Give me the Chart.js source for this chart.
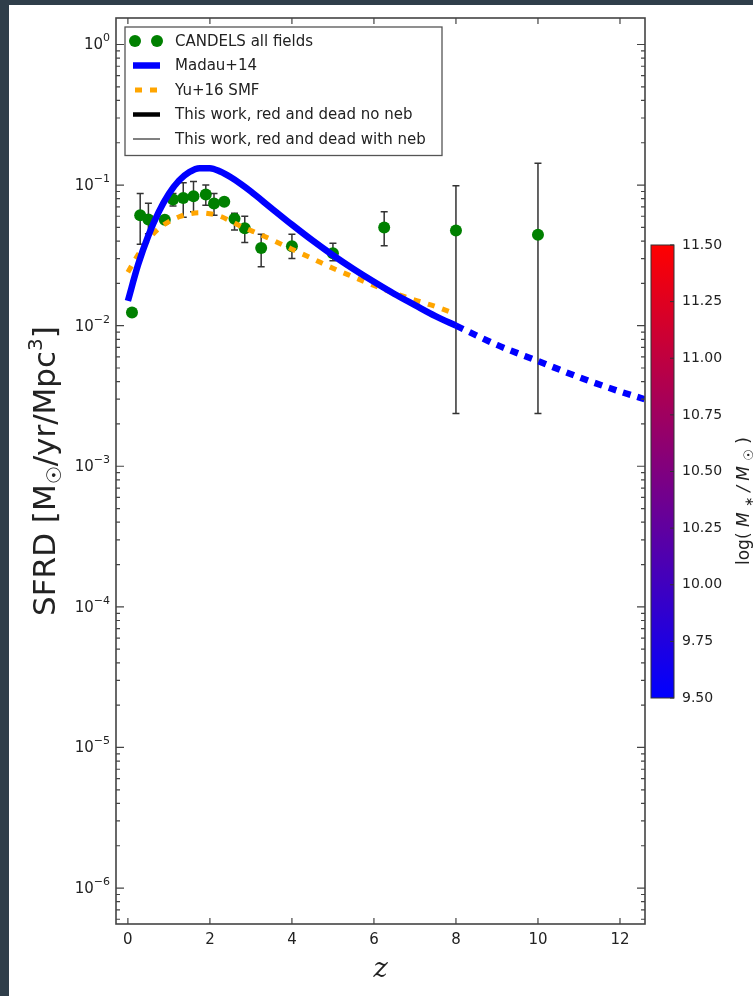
<!DOCTYPE html>
<html>
<head>
<meta charset="utf-8">
<script src="https://cdn.jsdelivr.net/npm/chart.js@4.4.0/dist/chart.umd.min.js"></script>
<style>
  html, body { margin: 0; padding: 0; width: 753px; height: 996px; background: #2f3e4a; overflow: hidden; }
  #page { position: absolute; left: 9px; top: 5px; right: 0; bottom: 0; background: #fff; }
  #sfrd { position: absolute; left: 0; top: 0; }
  #cbar { position: absolute; left: 645px; top: 0; }
</style>
</head>
<body>
<div id="page"></div>
<canvas id="sfrd" width="753" height="996"></canvas>
<canvas id="cbar" width="108" height="996"></canvas>
<script>
// CANDELS all fields: redshift, SFRD and error bar ends
const candelsZ    = [0.1, 0.3, 0.5, 0.9, 1.1, 1.35, 1.6, 1.9, 2.1, 2.35, 2.6, 2.85, 3.25, 4.0, 5.0, 6.25, 8.0, 10.0];
const candelsSfrd = [0.0124, 0.061, 0.057, 0.0567, 0.079, 0.081, 0.0834, 0.0858, 0.074, 0.076, 0.0577, 0.0494, 0.0357, 0.0367, 0.0327, 0.050, 0.0476, 0.0444];
const candelsLo   = [0.0119, 0.038, 0.045, 0.054, 0.071, 0.059, 0.0646, 0.072, 0.061, 0.072, 0.048, 0.039, 0.0263, 0.030, 0.029, 0.037, 0.00237, 0.00237];
const candelsHi   = [0.0129, 0.087, 0.0743, 0.059, 0.087, 0.104, 0.106, 0.100, 0.087, 0.080, 0.063, 0.060, 0.0447, 0.0447, 0.0386, 0.0646, 0.099, 0.143];

// Madau+14 curve, solid up to z=8 then dashed
const madauZ    = [0, 0.25, 0.5, 0.75, 1, 1.25, 1.5, 1.75, 2, 2.25, 2.5, 2.75, 3, 3.5, 4, 4.5, 5, 5.5, 6, 6.5, 7, 7.5, 8];
const madauSfrd = [0.0150, 0.0272, 0.0438, 0.0642, 0.0867, 0.108, 0.124, 0.132, 0.132, 0.125, 0.114, 0.102, 0.090, 0.0685, 0.0523, 0.0404, 0.0317, 0.0253, 0.0205, 0.0168, 0.0140, 0.0117, 0.0100];
const madauExtZ    = [8, 9, 10, 11, 12, 12.6];
const madauExtSfrd = [0.0100, 0.0073, 0.0056, 0.0043, 0.0034, 0.0030];

// Yu+16 SMF
const yuZ    = [0, 0.25, 0.5, 0.75, 1, 1.25, 1.5, 1.75, 2, 2.25, 2.5, 2.75, 3, 3.5, 4, 4.5, 5, 5.5, 6, 6.5, 7, 7.5, 8];
const yuSfrd = [0.024, 0.032, 0.041, 0.049, 0.055, 0.0595, 0.0625, 0.0635, 0.0625, 0.060, 0.0555, 0.051, 0.0475, 0.041, 0.035, 0.030, 0.0256, 0.0222, 0.0193, 0.0170, 0.0152, 0.0137, 0.0121];

// axis ticks
const zTicks    = [0, 2, 4, 6, 8, 10, 12];
const sfrdTicks = [1e-6, 1e-5, 1e-4, 1e-3, 1e-2, 1e-1, 1];
const massTicks = [9.5, 9.75, 10, 10.25, 10.5, 10.75, 11, 11.25, 11.5];

const FONT = 'DejaVu Sans';
const INK = '#222';

const pts = (xs, ys) => xs.map((x, i) => ({ x: x, y: ys[i] }));

// draw a row of text pieces (with sub/superscripts) rotated -90deg, centred on (cx, cy)
function drawRotated(ctx, parts, cx, cy, total) {
  let sum = 0;
  parts.forEach(p => { ctx.font = p.f; p.w = ctx.measureText(p.t).width; sum += p.w; });
  const gap = total ? (total - sum) / (parts.length - 1) : 0;
  const span = total || sum;
  ctx.save();
  ctx.translate(cx, cy);
  ctx.rotate(-Math.PI / 2);
  ctx.fillStyle = INK;
  ctx.textBaseline = 'middle';
  let x = -span / 2;
  parts.forEach(p => { ctx.font = p.f; ctx.fillText(p.t, x, p.dy); x += p.w + gap; });
  ctx.restore();
}

// error bars for the first dataset, under the markers
const errorBars = {
  id: 'errorBars',
  beforeDatasetsDraw(chart) {
    const { ctx, chartArea: a, scales: { x, y } } = chart;
    ctx.save();
    ctx.beginPath();
    ctx.rect(a.left, a.top, a.width, a.height);
    ctx.clip();
    ctx.strokeStyle = '#333';
    ctx.lineWidth = 1.5;
    ctx.beginPath();
    candelsZ.forEach((z, i) => {
      const px = x.getPixelForValue(z);
      const top = y.getPixelForValue(candelsHi[i]);
      const bot = y.getPixelForValue(candelsLo[i]);
      ctx.moveTo(px, top); ctx.lineTo(px, bot);
      ctx.moveTo(px - 3.5, top); ctx.lineTo(px + 3.5, top);
      ctx.moveTo(px - 3.5, bot); ctx.lineTo(px + 3.5, bot);
    });
    ctx.stroke();
    ctx.restore();
  }
};

// box around the axes with inward ticks, minor ticks on the log axis,
// power-of-ten labels and the rotated y title
const frameTicks = {
  id: 'frameTicks',
  afterDatasetsDraw(chart) {
    const { ctx, chartArea: a, scales: { x, y } } = chart;
    ctx.save();
    ctx.strokeStyle = '#444';
    ctx.lineWidth = 1.2;
    ctx.beginPath();
    zTicks.forEach(v => {
      const px = x.getPixelForValue(v);
      ctx.moveTo(px, a.bottom); ctx.lineTo(px, a.bottom - 6);
      ctx.moveTo(px, a.top); ctx.lineTo(px, a.top + 6);
    });
    for (let e = -7; e <= 0; e++) {
      for (let k = 1; k <= 9; k++) {
        const v = k * Math.pow(10, e);
        if (v < y.min || v > y.max) continue;
        const py = y.getPixelForValue(v);
        const len = k === 1 ? 8 : 4;
        ctx.moveTo(a.left, py); ctx.lineTo(a.left + len, py);
        ctx.moveTo(a.right, py); ctx.lineTo(a.right - len, py);
      }
    }
    ctx.stroke();
    ctx.lineWidth = 1.6;
    ctx.strokeRect(a.left, a.top, a.width, a.height);

    // 10^n tick labels
    ctx.fillStyle = INK;
    ctx.textAlign = 'right';
    ctx.textBaseline = 'middle';
    sfrdTicks.forEach(v => {
      const py = y.getPixelForValue(v);
      const exp = String(Math.round(Math.log10(v))).replace('-', '\u2212');
      ctx.font = '11px "' + FONT + '"';
      const ew = ctx.measureText(exp).width;
      ctx.fillText(exp, a.left - 6, py - 6);
      ctx.font = '15px "' + FONT + '"';
      ctx.fillText('10', a.left - 6 - ew, py + 1);
    });
    ctx.restore();

    drawRotated(ctx, [
      { t: 'SFRD [M', f: '31px "' + FONT + '"', dy: 0 },
      { t: '\u2609', f: '20px "' + FONT + '"', dy: 9 },
      { t: '/yr/Mpc', f: '31px "' + FONT + '"', dy: 0 },
      { t: '3', f: '20px "' + FONT + '"', dy: -10 },
      { t: ']', f: '31px "' + FONT + '"', dy: 0 }
    ], 47, (a.top + a.bottom) / 2);
  }
};

// legend in a box at the upper left of the axes
const boxLegend = {
  id: 'boxLegend',
  afterDraw(chart) {
    const { ctx, chartArea: a } = chart;
    const items = chart.data.datasets.filter(d => d.label);
    const x0 = a.left + 9, y0 = a.top + 9, w = 317, rowH = 24.5;
    const h = items.length * rowH + 6;
    ctx.save();
    ctx.fillStyle = '#fff';
    ctx.fillRect(x0, y0, w, h);
    ctx.strokeStyle = '#555';
    ctx.lineWidth = 1.3;
    ctx.strokeRect(x0, y0, w, h);
    items.forEach((d, i) => {
      const cy = y0 + 14 + i * rowH;
      if (d.showLine === false) {
        ctx.fillStyle = d.backgroundColor;
        [x0 + 10, x0 + 32].forEach(cx => {
          ctx.beginPath();
          ctx.arc(cx, cy, d.pointRadius, 0, Math.PI * 2);
          ctx.fill();
        });
      } else {
        ctx.strokeStyle = d.borderColor;
        ctx.lineWidth = d.borderWidth;
        ctx.setLineDash(d.borderDash || []);
        ctx.beginPath();
        if (d.borderDash) { ctx.moveTo(x0 + 10, cy); ctx.lineTo(x0 + 32, cy); }
        else { ctx.moveTo(x0 + 8, cy); ctx.lineTo(x0 + 35, cy); }
        ctx.stroke();
        ctx.setLineDash([]);
      }
      ctx.fillStyle = INK;
      ctx.font = '15px "' + FONT + '"';
      ctx.textBaseline = 'middle';
      ctx.fillText(d.label, x0 + 50, cy + 1);
    });
    ctx.restore();
  }
};

new Chart(document.getElementById('sfrd'), {
  type: 'line',
  data: {
    datasets: [
      {
        label: 'CANDELS all fields',
        data: pts(candelsZ, candelsSfrd),
        showLine: false,
        pointRadius: 6,
        pointHoverRadius: 6,
        backgroundColor: '#008000',
        borderColor: '#008000',
        borderWidth: 0,
        order: 4
      },
      {
        label: 'Madau+14',
        data: pts(madauZ, madauSfrd),
        borderColor: '#0000ff',
        borderWidth: 6.5,
        pointRadius: 0,
        cubicInterpolationMode: 'monotone',
        order: 1
      },
      {
        label: 'Yu+16 SMF',
        data: pts(yuZ, yuSfrd),
        borderColor: '#ffa500',
        borderWidth: 5,
        borderDash: [7, 8],
        pointRadius: 0,
        cubicInterpolationMode: 'monotone',
        order: 2
      },
      {
        label: 'This work, red and dead no neb',
        data: [],
        borderColor: '#000000',
        borderWidth: 4.5,
        pointRadius: 0,
        order: 3
      },
      {
        label: 'This work, red and dead with neb',
        data: [],
        borderColor: '#808080',
        borderWidth: 2,
        pointRadius: 0,
        order: 3
      },
      {
        data: pts(madauExtZ, madauExtSfrd),
        borderColor: '#0000ff',
        borderWidth: 6.5,
        borderDash: [8, 7],
        pointRadius: 0,
        cubicInterpolationMode: 'monotone',
        order: 1
      }
    ]
  },
  options: {
    responsive: false,
    animation: false,
    devicePixelRatio: 1,
    layout: { padding: { left: 0, top: 18, right: 108, bottom: 0 } },
    plugins: { legend: { display: false }, tooltip: { enabled: false } },
    scales: {
      x: {
        type: 'linear',
        min: -0.29,
        max: 12.61,
        afterBuildTicks: s => { s.ticks = zTicks.map(v => ({ value: v })); },
        afterFit: s => { s.height = 72; },
        ticks: { font: { family: FONT, size: 15 }, color: INK, padding: 7, maxRotation: 0 },
        grid: { display: false, drawTicks: false },
        border: { display: false },
        title: {
          display: true,
          text: 'z',
          color: INK,
          font: { family: 'DejaVu Serif', size: 27, style: 'italic' },
          padding: { top: 0, bottom: 10 }
        }
      },
      y: {
        type: 'logarithmic',
        min: 5.55e-7,
        max: 1.543,
        afterBuildTicks: s => { s.ticks = sfrdTicks.map(v => ({ value: v })); },
        afterFit: s => { s.width = 116; },
        ticks: { display: false },
        grid: { display: false, drawTicks: false },
        border: { display: false }
      }
    }
  },
  plugins: [errorBars, frameTicks, boxLegend]
});

// colour bar: stellar mass scale
const cbarDecor = {
  id: 'cbarDecor',
  afterDraw(chart) {
    const { ctx, chartArea: a, scales: { y } } = chart;
    ctx.save();
    ctx.strokeStyle = '#333';
    ctx.lineWidth = 1;
    ctx.beginPath();
    massTicks.forEach(v => {
      const py = y.getPixelForValue(v);
      ctx.moveTo(a.right, py); ctx.lineTo(a.right - 4, py);
    });
    ctx.stroke();
    ctx.strokeRect(a.left, a.top, a.width, a.height);
    ctx.restore();

    drawRotated(ctx, [
      { t: 'log(', f: '17px "DejaVu Sans"', dy: 0 },
      { t: 'M', f: 'italic 17px "DejaVu Sans"', dy: 0 },
      { t: '\u2217', f: '12px "DejaVu Sans"', dy: 5 },
      { t: '/', f: 'italic 17px "DejaVu Sans"', dy: 0 },
      { t: 'M', f: 'italic 17px "DejaVu Sans"', dy: 0 },
      { t: '\u2609', f: '13px "DejaVu Sans"', dy: 5 },
      { t: ')', f: '17px "DejaVu Sans"', dy: 0 }
    ], 100, 501, 128);
  }
};

new Chart(document.getElementById('cbar'), {
  type: 'bar',
  data: {
    labels: [''],
    datasets: [{
      data: [[massTicks[0], massTicks[massTicks.length - 1]]],
      backgroundColor: c => {
        const a = c.chart.chartArea;
        if (!a) return '#800080';
        const g = c.chart.ctx.createLinearGradient(0, a.bottom, 0, a.top);
        g.addColorStop(0, '#0000ff');
        g.addColorStop(1, '#ff0000');
        return g;
      },
      borderWidth: 0,
      barPercentage: 1,
      categoryPercentage: 1
    }]
  },
  options: {
    responsive: false,
    animation: false,
    devicePixelRatio: 1,
    layout: { padding: { left: 6, top: 245, right: 0, bottom: 298 } },
    plugins: { legend: { display: false }, tooltip: { enabled: false } },
    scales: {
      x: { display: false },
      y: {
        position: 'right',
        min: 9.5,
        max: 11.5,
        afterBuildTicks: s => { s.ticks = massTicks.map(v => ({ value: v })); },
        afterFit: s => { s.width = 79; },
        ticks: { font: { family: FONT, size: 14 }, color: INK, padding: 8, callback: v => v.toFixed(2) },
        grid: { display: false, drawTicks: false },
        border: { display: false }
      }
    }
  },
  plugins: [cbarDecor]
});
</script>
</body>
</html>
